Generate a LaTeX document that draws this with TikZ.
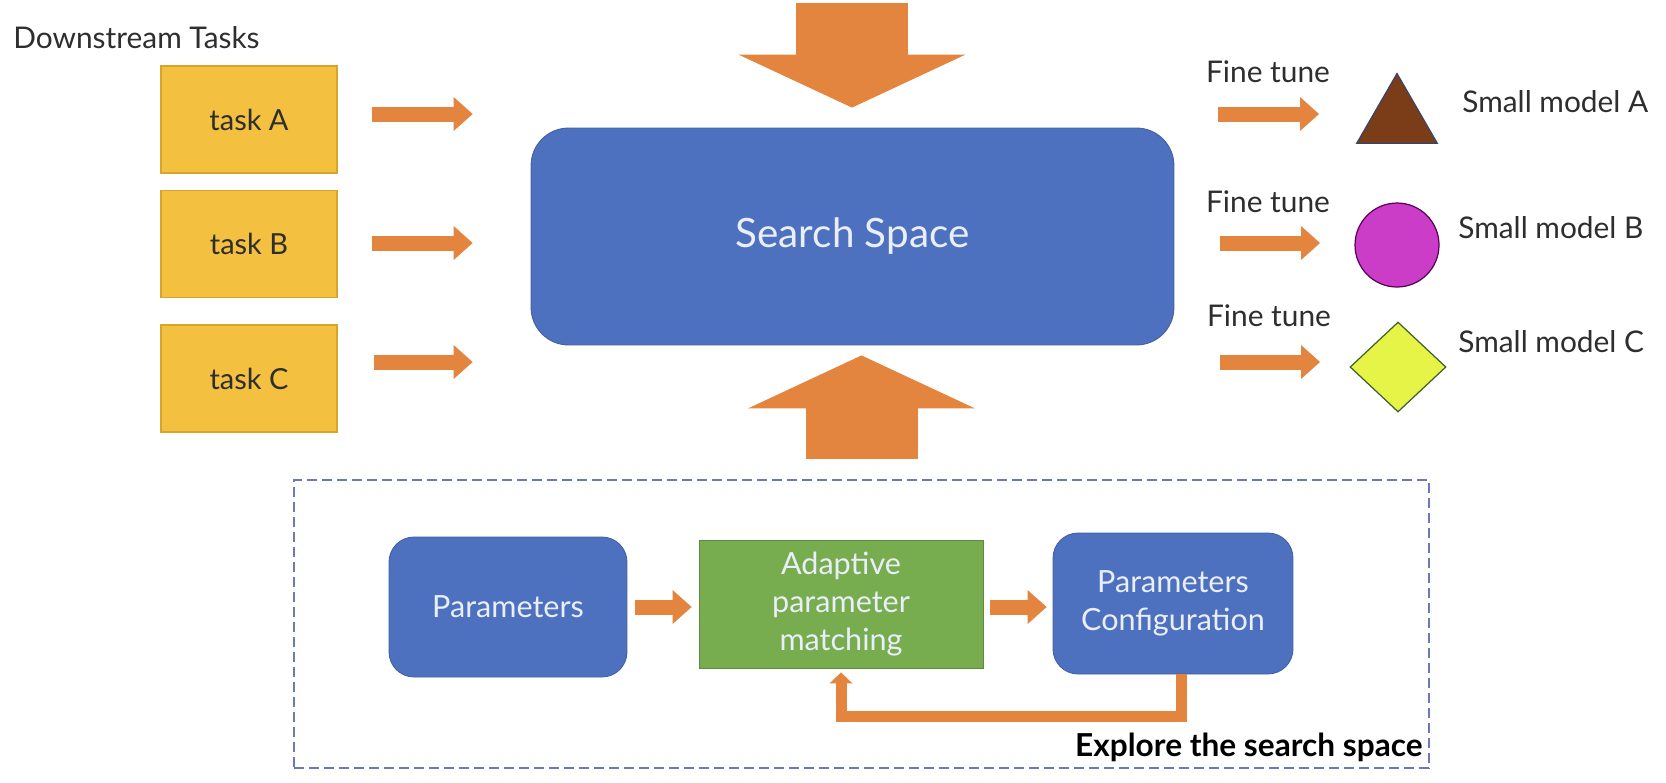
\documentclass[tikz,border=0pt]{standalone}
\usepackage{fontspec}
\setmainfont{Lato}
\usetikzlibrary{arrows.meta,positioning,shapes.geometric,calc}
\definecolor{taskfill}{HTML}{F3C03F}
\definecolor{taskedge}{HTML}{D7A52C}
\definecolor{orange}{HTML}{E3843F}
\definecolor{blue}{HTML}{4E71BF}
\definecolor{bluetext}{HTML}{E9EEF8}
\definecolor{green}{HTML}{77AD4F}
\definecolor{brown}{HTML}{7B3D17}
\definecolor{magenta}{HTML}{CC3DC7}
\definecolor{lime}{HTML}{E5F446}
\definecolor{slate}{HTML}{6C79B9}
\definecolor{ink}{HTML}{2E2E2E}

\begin{document}
\begin{tikzpicture}[
  x=0.02cm, y=-0.02cm,
  font=\fontsize{17}{20}\selectfont,
  blk/.style={-{Triangle[width=0.68cm, length=0.38cm, line width=0pt]}, line width=0.3cm, draw=orange},
  bigblk/.style={-{Triangle[width=4.54cm, length=1.06cm, line width=0pt]}, line width=2.24cm, draw=orange},
  loopblk/.style={-{Triangle[width=0.46cm, length=0.22cm, line width=0pt]}, line width=0.22cm,
                  draw=orange, line join=miter},
  task/.style={rectangle, minimum width=3.52cm, minimum height=2.14cm, fill=taskfill,
               draw=taskedge, line width=0.6pt, text=ink, font=\fontsize{16.5}{19}\selectfont},
  card/.style={rounded corners=0.5cm, fill=blue, draw=blue!85!black, line width=0.5pt,
               text=bluetext, align=center, font=\fontsize{17.4}{21.5}\selectfont},
  lbl/.style={text=ink, inner sep=0pt},
  model/.style={inner sep=0pt, line width=0.7pt}
]
\useasboundingbox (0,0) rectangle (1666,782);
\fill[white] (0,0) rectangle (1666,782);

% downstream tasks
\node[lbl, anchor=base west] (title) at (13,48) {Downstream Tasks};
\node[task] (taskA) at (249,119.5) {task A};
\node[task] (taskB) at (249,244) {task B};
\node[task] (taskC) at (249,378.5) {task C};
\coordinate (rowA) at (0,114);
\coordinate (rowB) at (0,243);
\coordinate (rowC) at (0,362);

% search space
\node[card, rounded corners=0.75cm, minimum width=12.86cm, minimum height=4.34cm,
      font=\fontsize{23}{28}\selectfont] (space) at (852.5,236.5) {Search Space};
\coordinate (feed) at (852,3);
\draw[bigblk, shorten >=0.4cm] (feed) -- (feed |- space.north);

\draw[blk, shorten <=0.68cm, shorten >=1.16cm] (taskA.east |- rowA) -- (space.west |- rowA);
\draw[blk, shorten <=0.68cm, shorten >=1.16cm] (taskB.east |- rowB) -- (space.west |- rowB);
\draw[blk, shorten <=0.72cm, shorten >=1.16cm] (taskC.east |- rowC) -- (space.west |- rowC);

% small models
\node[model, regular polygon, regular polygon sides=3, minimum size=1.86cm,
      fill=brown, draw=slate!55!black] (modA) at (1397,120) {};
\node[model, circle, minimum size=1.68cm, fill=magenta, draw=violet!70!black] (modB) at (1397,245) {};
\node[model, diamond, minimum width=1.92cm, minimum height=1.8cm,
      fill=lime, draw=green!55!black] (modC) at (1398,367) {};
\node[lbl, anchor=base] (ftA) at (1268,82) {Fine tune};
\node[lbl, anchor=base] (ftB) at (1268,212) {Fine tune};
\node[lbl, anchor=base] (ftC) at (1269,326) {Fine tune};
\node[lbl, anchor=base west] (nameA) at (1462,112) {Small model A};
\node[lbl, anchor=base west] (nameB) at (1458,238) {Small model B};
\node[lbl, anchor=base west] (nameC) at (1458,352) {Small model C};
\draw[blk, shorten <=0.88cm, shorten >=1.56cm] (space.east |- rowA) -- (modA |- rowA);
\draw[blk, shorten <=0.92cm, shorten >=1.54cm] (space.east |- rowB) -- (modB |- rowB);
\draw[blk, shorten <=0.92cm, shorten >=1.56cm] (space.east |- rowC) -- (modC |- rowC);

% exploring the search space
\node[draw=slate, dash pattern=on 0.2cm off 0.1cm, line width=0.85pt, minimum width=22.7cm,
      minimum height=5.76cm, inner sep=0pt] (explore) at (861.5,624) {};
\node[card] (param) at (508,607) [minimum width=4.76cm, minimum height=2.8cm] {Parameters};
\node[card, rounded corners=0pt, fill=green, draw=green!80!black, minimum width=5.68cm,
      minimum height=2.56cm] (match) at (841,604) {Adaptive\\parameter\\matching};
\node[card, minimum width=4.8cm, minimum height=2.82cm] (config) at (1173,603.5)
  {Parameters\\Configuration};
\draw[blk, shorten <=0.16cm, shorten >=0.14cm] (param.east) -- (param.east -| match.west);
\draw[blk, shorten <=0.14cm, shorten >=0.12cm] (param.east -| match.east) -- (param.east -| config.west);
\draw[loopblk, shorten >=0.08cm] ([xshift=0.16cm]config.south) -- ++(0,42) -| (match.south);
\node[lbl, text=black, font=\bfseries\fontsize{18}{21}\selectfont, anchor=base east]
  (exptxt) at (1423,756) {Explore the search space};
\draw[bigblk, shorten <=0.4cm, shorten >=0.2cm] (explore.north) -- (explore.north |- space.south);

\end{tikzpicture}
\end{document}
